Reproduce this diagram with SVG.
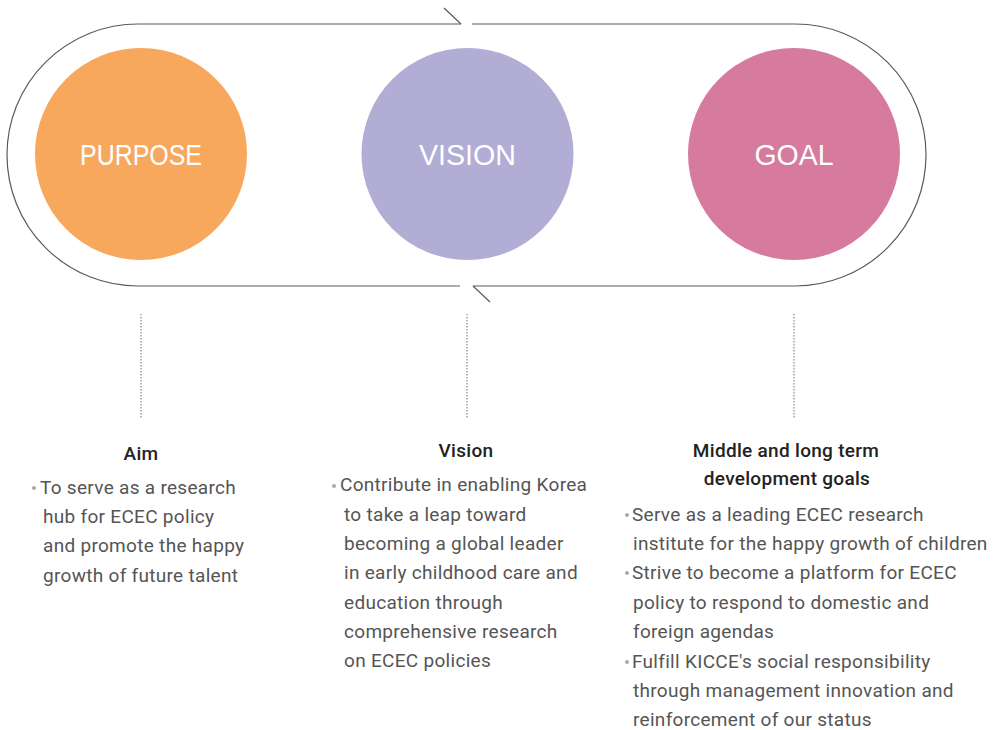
<svg xmlns="http://www.w3.org/2000/svg" width="995" height="730" viewBox="0 0 995 730">
<style>
.loop{fill:none;stroke:#5a5a5a;stroke-width:1.2}
.dot{fill:none;stroke:#8a8a8a;stroke-width:1.2;stroke-dasharray:1.5 1.5}
.ct{font-family:"Liberation Sans",Arial,sans-serif;font-size:29px;fill:#ffffff;text-anchor:middle}
.hd{font-family:Roboto,"Liberation Sans",sans-serif;font-size:19px;font-weight:500;letter-spacing:0.3px;fill:#222222;text-anchor:middle}
.tx{font-family:Roboto,"Liberation Sans",sans-serif;font-size:19px;letter-spacing:0.3px;fill:#555555}
.bl{fill:#aaaaaa}
</style>
<rect width="995" height="730" fill="#ffffff"/>
<g id="connectors">
<path class="loop" d="M461 24 L138 24 A131 131 0 0 0 138 286 L460 286"/>
<path class="loop" d="M473 286 L795 286 A131 131 0 0 0 795 24 L472 24"/>
<path class="loop" d="M444 8 L461 24"/>
<path class="loop" d="M473 286 L490 302"/>
<line class="dot" x1="141" y1="314" x2="141" y2="419"/>
<line class="dot" x1="467" y1="314" x2="467" y2="419"/>
<line class="dot" x1="794" y1="314" x2="794" y2="419"/>
</g>
<g id="purpose">
<circle cx="141" cy="154" r="106" fill="#F8A85D"/>
<text class="ct" x="141" y="165" textLength="122" lengthAdjust="spacingAndGlyphs">PURPOSE</text>
</g>
<g id="vision">
<circle cx="467.5" cy="154" r="106" fill="#B1ADD5"/>
<text class="ct" x="467.5" y="165" textLength="97" lengthAdjust="spacingAndGlyphs">VISION</text>
</g>
<g id="goal">
<circle cx="794" cy="154" r="106" fill="#D67B9E"/>
<text class="ct" x="794" y="165" textLength="79" lengthAdjust="spacingAndGlyphs">GOAL</text>
</g>
<g id="aim-text">
<text class="hd" x="141" y="460">Aim</text>
<circle class="bl" cx="34" cy="488" r="2"/>
<text class="tx" x="40" y="494">To serve as a research</text>
<text class="tx" x="43" y="523">hub for ECEC policy</text>
<text class="tx" x="43" y="552">and promote the happy</text>
<text class="tx" x="43" y="582">growth of future talent</text>
</g>
<g id="vision-text">
<text class="hd" x="466" y="457">Vision</text>
<circle class="bl" cx="334" cy="486" r="2"/>
<text class="tx" x="340" y="491">Contribute in enabling Korea</text>
<text class="tx" x="344" y="521">to take a leap toward</text>
<text class="tx" x="344" y="550">becoming a global leader</text>
<text class="tx" x="344" y="579">in early childhood care and</text>
<text class="tx" x="344" y="609">education through</text>
<text class="tx" x="344" y="638">comprehensive research</text>
<text class="tx" x="344" y="667">on ECEC policies</text>
</g>
<g id="goal-text">
<text class="hd" x="786" y="457">Middle and long term</text>
<text class="hd" x="787" y="485">development goals</text>
<circle class="bl" cx="627" cy="515" r="2"/>
<text class="tx" x="632" y="521">Serve as a leading ECEC research</text>
<text class="tx" x="633" y="550">institute for the happy growth of children</text>
<circle class="bl" cx="627" cy="573" r="2"/>
<text class="tx" x="632" y="579">Strive to become a platform for ECEC</text>
<text class="tx" x="633" y="609">policy to respond to domestic and</text>
<text class="tx" x="633" y="638">foreign agendas</text>
<circle class="bl" cx="627" cy="662" r="2"/>
<text class="tx" x="632" y="668">Fulfill KICCE's social responsibility</text>
<text class="tx" x="633" y="697">through management innovation and</text>
<text class="tx" x="633" y="726">reinforcement of our status</text>
</g>
</svg>
